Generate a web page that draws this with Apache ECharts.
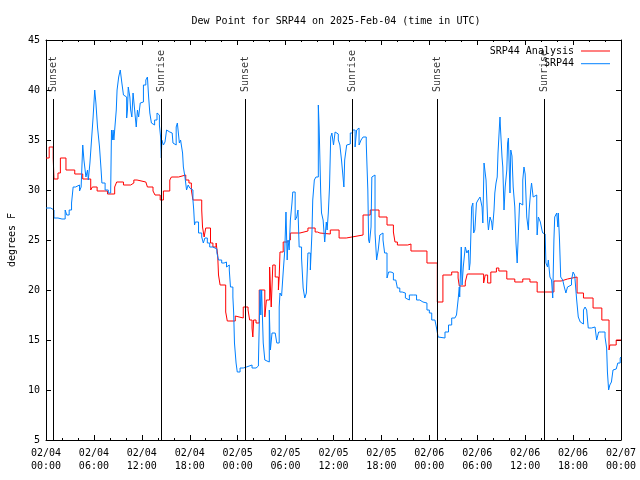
<!DOCTYPE html>
<html><head><meta charset="utf-8">
<script src="https://cdn.jsdelivr.net/npm/echarts@6/dist/echarts.min.js"></script>
<style>html,body{margin:0;padding:0;background:#fff}#c{width:640px;height:480px}</style>
</head><body><div id="c"></div>
<script>
const chartTitle = 'Dew Point for SRP44 on 2025-Feb-04 (time in UTC)';
const xTickLabels = ['02/04\n00:00','02/04\n06:00','02/04\n12:00','02/04\n18:00','02/05\n00:00','02/05\n06:00','02/05\n12:00','02/05\n18:00','02/06\n00:00','02/06\n06:00','02/06\n12:00','02/06\n18:00','02/07\n00:00'];
const sunHours = [0.91, 14.44, 24.96, 38.35, 49.05, 62.45];
const sunLabels = ['Sunset','Sunrise','Sunset','Sunrise','Sunset','Sunrise'];

// SRP44 Analysis: [hours since 02/04 00:00 UTC, deg F]
const anaSeries = [[0,33.2],[0.4,34.3],[0.9,33.2],[1.0,31.1],[1.5,31.7],[1.8,33.2],[2.5,32.0],[3.6,31.6],[4.6,31.1],[5.6,30.0],[5.8,30.3],[6.4,29.9],[7.7,29.6],[8.6,30.3],[8.85,30.8],[9.7,30.5],[10.6,30.7],[11.0,31.0],[11.4,30.8],[12.5,30.7],[12.7,30.3],[13.4,29.9],[13.65,29.5],[14.3,29.0],[14.7,29.9],[15.5,31.0],[15.7,31.3],[16.6,31.5],[17.5,31.0],[17.9,30.7],[18.2,30.0],[18.4,29.0],[19.5,28.0],[19.6,26.3],[19.8,25.3],[20.0,26.2],[20.6,24.7],[20.9,24.3],[21.3,24.7],[21.5,23.5],[21.6,21.5],[21.8,20.5],[22.5,17.8],[22.7,16.9],[23.7,17.4],[23.9,17.2],[24.7,18.3],[25.3,18.0],[25.5,17.0],[25.8,16.2],[25.9,15.3],[26.0,17.0],[26.3,16.7],[26.7,20.0],[27.4,17.3],[27.6,19.0],[28.0,22.3],[28.2,18.3],[28.4,22.5],[28.7,21.3],[29.1,20.0],[29.2,21.3],[29.3,23.8],[29.7,24.8],[30.2,25.0],[30.6,25.7],[31.8,25.9],[32.8,26.2],[33.7,25.8],[34.0,25.7],[34.3,25.6],[35.6,26.0],[36.7,25.2],[37.6,25.3],[38.3,25.5],[39.7,27.5],[40.6,28.0],[41.7,27.3],[42.7,26.5],[43.5,25.8],[43.7,24.8],[44.0,24.5],[45.3,24.6],[45.7,23.9],[47.7,22.7],[49.0,18.8],[49.7,21.5],[50.8,21.8],[51.6,21.2],[51.75,20.4],[52.5,20.8],[52.75,21.6],[54.8,20.7],[55.0,21.5],[55.3,20.7],[55.7,21.8],[56.4,22.2],[56.7,21.9],[57.7,21.1],[58.7,20.8],[59.7,21.1],[60.6,20.8],[61.5,19.8],[63.6,20.9],[64.5,21.1],[65.3,21.3],[66.5,19.7],[67.3,19.2],[68.5,18.2],[69.6,17.0],[70.5,14.0],[70.6,14.5],[71.4,15.0],[72,15.0]];

// SRP44 observations: [hours, deg F]
const obsSeries = [[0,28.2],[0.6,28.0],[1.0,27.2],[1.5,27.1],[2.0,27.1],[2.4,28.0],[2.6,27.5],[2.9,28.0],[3.2,28.7],[3.4,30.3],[3.7,30.5],[4.2,29.9],[4.4,30.3],[4.6,34.5],[4.75,33.0],[5.0,31.3],[5.2,32.0],[5.3,31.0],[5.5,32.7],[5.7,35.0],[5.9,37.3],[6.1,40.0],[6.25,38.7],[6.45,36.3],[6.7,34.3],[6.9,32.0],[7.0,30.7],[7.4,30.0],[7.8,29.7],[8.1,30.0],[8.2,36.0],[8.3,35.0],[8.4,36.0],[8.5,35.0],[8.6,36.0],[8.8,38.0],[8.9,40.0],[9.1,41.3],[9.3,42.0],[9.4,42.2],[9.5,40.7],[9.7,39.5],[9.9,39.3],[10.1,37.2],[10.2,38.0],[10.3,40.3],[10.5,39.3],[10.6,38.0],[10.75,37.3],[10.9,39.7],[11.1,38.0],[11.3,36.3],[11.45,38.0],[11.6,37.3],[11.8,38.7],[12.0,38.8],[12.2,40.5],[12.5,41.0],[12.7,41.3],[12.85,39.3],[13.0,37.7],[13.2,36.7],[13.4,36.5],[13.6,37.0],[13.9,37.7],[14.1,37.5],[14.2,36.5],[14.35,35.3],[14.44,33.2],[14.5,35.0],[14.7,34.5],[14.9,34.8],[15.1,36.0],[15.3,35.8],[15.5,35.7],[15.8,35.6],[15.9,34.7],[16.1,34.5],[16.3,36.3],[16.45,36.7],[16.7,34.7],[16.85,35.0],[17.1,33.7],[17.2,32.3],[17.4,31.3],[17.6,30.0],[17.8,30.5],[18.0,30.2],[18.2,30.0],[18.4,29.0],[18.5,28.0],[18.6,26.5],[18.7,26.8],[19.1,25.7],[19.5,25.3],[19.7,24.7],[19.9,25.2],[20.2,24.7],[20.5,24.3],[20.9,24.1],[21.4,23.7],[21.6,23.0],[22.0,22.7],[22.3,22.8],[22.6,22.3],[22.8,22.5],[22.95,22.0],[23.1,20.3],[23.4,19.3],[23.5,17.7],[23.6,14.7],[23.8,12.7],[23.95,11.8],[24.3,12.2],[24.7,12.3],[25.1,12.5],[25.8,12.2],[26.3,12.4],[26.6,12.8],[26.8,20.0],[26.9,17.5],[27.0,20.0],[27.2,14.7],[27.4,13.0],[27.6,12.8],[27.96,18.0],[28.1,14.0],[28.3,15.7],[28.5,15.7],[28.7,15.8],[28.9,14.7],[29.2,18.3],[29.3,19.7],[29.5,19.4],[29.7,21.8],[29.9,24.0],[30.05,27.8],[30.2,23.0],[30.3,25.0],[30.45,24.0],[30.6,27.0],[30.8,28.7],[30.9,29.8],[31.2,27.0],[31.4,27.3],[31.55,28.0],[31.7,24.3],[32.0,23.2],[32.2,20.2],[32.4,19.2],[32.6,19.7],[32.8,23.7],[33.1,22.0],[33.3,25.7],[33.4,29.0],[33.6,31.0],[33.8,31.3],[34.1,38.5],[34.2,36.3],[34.3,33.0],[34.4,29.7],[34.5,27.7],[34.7,27.0],[34.9,24.8],[35.1,26.8],[35.2,26.0],[35.35,27.7],[35.5,30.3],[35.65,35.3],[35.8,35.7],[36.0,34.5],[36.2,35.8],[36.4,35.6],[36.6,35.0],[36.8,34.5],[37.0,33.0],[37.15,31.7],[37.3,30.3],[37.4,33.0],[37.65,34.5],[37.9,34.6],[38.1,35.7],[38.4,36.0],[38.7,34.3],[38.9,36.0],[39.0,36.2],[39.2,34.5],[39.45,35.0],[39.7,35.3],[40.1,34.7],[40.2,32.3],[40.3,30.0],[40.4,25.0],[40.5,24.7],[40.7,26.3],[40.8,31.3],[41.0,31.5],[41.2,25.7],[41.4,23.0],[41.6,24.0],[41.8,25.5],[42.0,25.7],[42.2,25.0],[42.4,23.7],[42.7,21.2],[42.9,21.8],[43.2,21.7],[43.5,21.0],[43.8,21.1],[44.0,20.2],[44.3,19.8],[44.6,20.0],[44.8,19.7],[45.0,19.2],[45.2,19.0],[45.5,19.5],[46.0,19.5],[46.4,19.0],[46.8,18.8],[47.2,18.7],[47.7,18.0],[48.0,17.7],[48.3,17.0],[48.7,16.8],[48.9,16.2],[49.1,15.3],[49.3,15.2],[49.96,15.8],[50.4,16.5],[50.8,17.2],[51.2,17.4],[51.4,17.5],[51.6,19.0],[51.75,20.3],[51.8,19.3],[52.0,24.3],[52.1,20.5],[52.25,22.3],[52.5,24.3],[52.7,23.7],[52.9,24.0],[53.0,22.0],[53.1,22.7],[53.3,28.3],[53.45,28.7],[53.55,25.7],[53.7,26.0],[53.9,28.7],[54.1,29.0],[54.35,29.3],[54.6,28.3],[54.7,26.7],[54.85,32.7],[55.0,32.7],[55.1,31.0],[55.3,27.0],[55.4,26.0],[55.6,27.3],[55.8,26.8],[55.9,26.0],[56.1,28.0],[56.2,29.7],[56.35,30.7],[56.5,31.3],[56.6,33.7],[56.8,36.7],[56.85,37.3],[56.9,36.3],[57.1,33.3],[57.2,32.3],[57.35,28.0],[57.5,30.3],[57.7,32.0],[57.8,34.7],[57.9,35.2],[58.1,29.7],[58.2,34.0],[58.35,33.4],[58.5,30.3],[58.7,28.3],[58.85,24.7],[59.0,22.7],[59.1,24.7],[59.3,28.7],[59.45,28.5],[59.7,31.0],[59.85,32.3],[60.0,31.6],[60.2,27.3],[60.4,26.0],[60.5,28.0],[60.7,30.0],[60.8,30.7],[61.0,29.3],[61.2,29.5],[61.45,27.3],[61.5,25.5],[61.65,27.3],[61.9,26.8],[62.1,26.0],[62.2,25.7],[62.4,25.6],[62.5,25.7],[62.6,22.7],[62.8,22.3],[62.9,23.0],[63.1,21.3],[63.3,21.0],[63.45,19.2],[63.6,25.0],[63.7,27.3],[63.95,27.7],[64.1,26.3],[64.15,27.7],[64.3,25.0],[64.45,21.3],[64.7,21.0],[64.9,20.3],[65.1,19.7],[65.3,20.3],[65.5,20.5],[65.8,21.0],[66.0,21.8],[66.2,21.5],[66.45,19.0],[66.65,17.3],[66.9,16.8],[67.1,16.6],[67.3,18.0],[67.5,18.3],[67.7,18.0],[67.9,16.2],[68.3,16.0],[68.5,16.3],[68.75,16.1],[68.95,15.0],[69.2,15.8],[69.6,15.6],[69.8,15.8],[70.0,15.3],[70.2,14.2],[70.3,11.8],[70.45,10.0],[70.6,10.5],[70.8,10.8],[71.0,12.0],[71.2,12.1],[71.4,12.3],[71.6,12.7],[71.9,13.2],[72,13.3]];

const FONT = 'DejaVu Sans Mono';
const chart = echarts.init(document.getElementById('c'), null, {renderer: 'canvas'});

const grid = {left: 46, right: 19, top: 40, bottom: 40, show: false, containLabel: false, outerBoundsMode: 'none'};
const xBase = {
  type: 'value', min: 0, max: 72, interval: 6,
  axisLine: {show: true, onZero: false, lineStyle: {color: '#000', width: 1}},
  axisTick: {show: true, inside: true, length: 5, lineStyle: {color: '#000'}},
  minorTick: {show: true, splitNumber: 3, length: 2, lineStyle: {color: '#000'}},
  splitLine: {show: false}
};
const yBase = {
  type: 'value', min: 5, max: 45, interval: 5,
  axisLine: {show: true, onZero: false, lineStyle: {color: '#000', width: 1}},
  axisTick: {show: true, inside: true, length: 5, lineStyle: {color: '#000'}},
  splitLine: {show: false}
};

chart.setOption({
  animation: false,
  backgroundColor: '#fff',
  title: {
    text: chartTitle, left: 331, top: 11, textAlign: 'center',
    textStyle: {fontFamily: FONT, fontSize: 10, fontWeight: 'normal', color: '#000'}
  },
  legend: {
    data: ['SRP44 Analysis', 'SRP44'],
    orient: 'vertical', align: 'right', right: 25, top: 40,
    icon: 'rect', itemWidth: 29, itemHeight: 1, itemGap: 0.7,
    textStyle: {fontFamily: FONT, fontSize: 10, color: '#000', lineHeight: 12, padding: [0, 2, 0, 0]}
  },
  grid: grid,
  xAxis: [
    Object.assign({}, xBase, {
      position: 'bottom',
      axisLabel: {
        fontFamily: FONT, fontSize: 10, color: '#000', margin: 7, lineHeight: 13,
        formatter: v => xTickLabels[Math.round(v / 6)]
      }
    }),
    Object.assign({}, xBase, {position: 'top', axisLabel: {show: false}})
  ],
  yAxis: [
    Object.assign({}, yBase, {
      position: 'left',
      name: 'degrees F', nameLocation: 'middle', nameGap: 29,
      nameTextStyle: {fontFamily: FONT, fontSize: 10, color: '#000'},
      axisLabel: {fontFamily: FONT, fontSize: 10, color: '#000', margin: 6}
    }),
    Object.assign({}, yBase, {position: 'right', axisLabel: {show: false}})
  ],
  series: [
    {
      name: 'sun', type: 'scatter', symbolSize: 0, silent: true,
      data: sunHours.map((h, i) => ({value: [h, 39.8], name: sunLabels[i]})),
      label: {
        show: true, position: 'inside', rotate: 90, align: 'left', verticalAlign: 'middle',
        formatter: p => p.name, fontFamily: FONT, fontSize: 10, color: '#000'
      },
      markLine: {
        silent: true, symbol: 'none', animation: false,
        label: {show: false},
        lineStyle: {color: '#000', width: 1, type: 'solid'},
        data: sunHours.map(h => [{coord: [h, 5]}, {coord: [h, 39.1]}])
      }
    },
    {
      name: 'SRP44 Analysis', type: 'line', step: 'end', symbol: 'none',
      data: anaSeries,
      lineStyle: {color: '#ff0000', width: 1}, itemStyle: {color: '#ff0000'}
    },
    {
      name: 'SRP44', type: 'line', step: 'end', symbol: 'none',
      data: obsSeries,
      lineStyle: {color: '#0080ff', width: 1}, itemStyle: {color: '#0080ff'}
    }
  ]
});
</script>
</body></html>
